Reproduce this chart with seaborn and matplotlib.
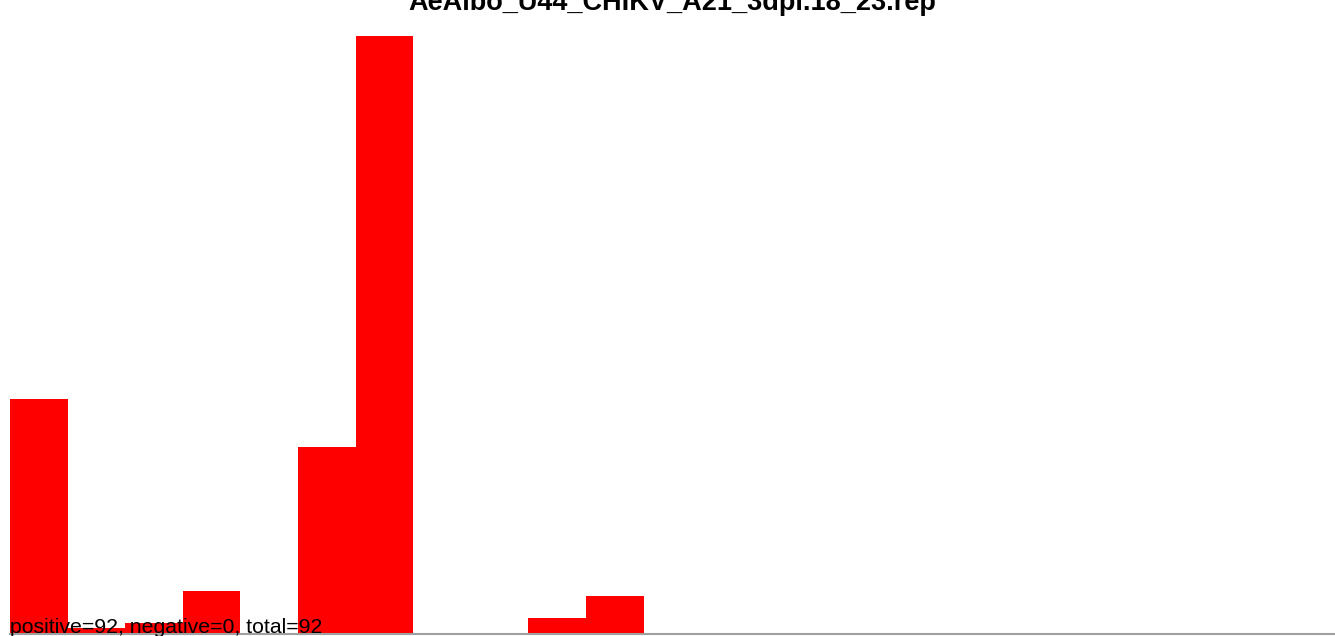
import matplotlib
matplotlib.use("Agg")
import matplotlib.pyplot as plt
import seaborn as sns
import pandas as pd

# histogram (relative heights)
bins = list(range(23))
values = [234.5, 5.5, 11.0, 42.5, 0, 186.5, 597.5, 0, 0, 15.5, 37.5,
          0, 0, 0, 0, 0, 0, 0, 0, 0, 0, 0, 0]
title = "AeAlbo_U44_CHIKV_A21_3dpi.18_23.rep"
summary = "positive=92, negative=0, total=92"

sns.set_style("white")
plt.rcParams['font.family'] = ['Liberation Sans', 'DejaVu Sans']

W, H = 1335, 636
fig = plt.figure(figsize=(W / 100, H / 100), dpi=100)
ax = fig.add_axes([10 / W, (H - 633.5) / H, 1325 / W, (633.5 - 36) / H])

df = pd.DataFrame({"bin": bins, "value": values})
sns.barplot(data=df, x="bin", y="value", color="#ff0000", width=1.0,
            saturation=1, ax=ax, linewidth=0)

ax.set_xlim(-0.5, len(bins) - 0.5)
ax.set_ylim(0, max(values))
ax.set_xticks([])
ax.set_yticks([])
ax.set_xlabel("")
ax.set_ylabel("")
for s in ["top", "left", "right"]:
    ax.spines[s].set_visible(False)
ax.spines["bottom"].set_color("#a0a0a0")
ax.spines["bottom"].set_linewidth(1.5)

# title sits partly above the top edge, as in the original
fig.text(672 / W, 1 - 10.5 / H, title, ha="center", va="baseline",
         fontsize=19.5, fontweight="bold", color="black")
fig.text(10 / W, 3 / H, summary, ha="left", va="baseline",
         fontsize=15.3, color="black")

fig.savefig("out.png", dpi=100)
